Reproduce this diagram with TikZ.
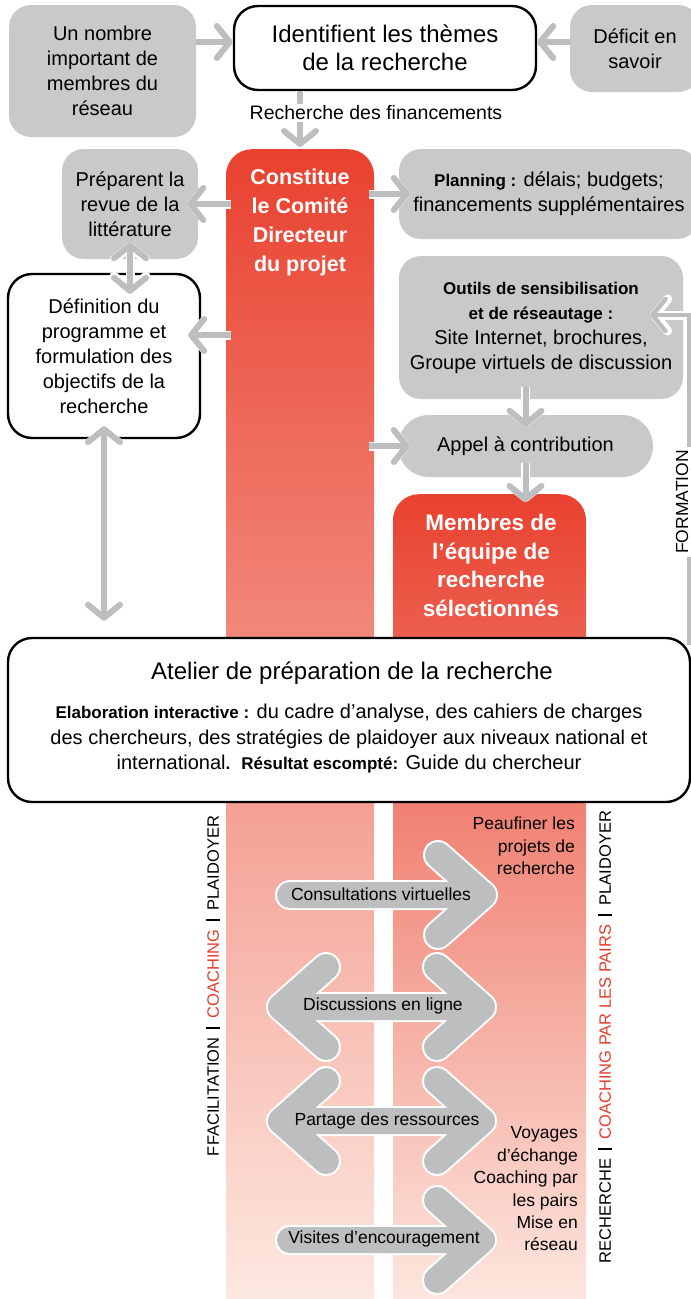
\documentclass[tikz,border=0pt]{standalone}
\usepackage{fontspec}
\setmainfont{Liberation Sans}
\usepackage{tikz}
\usetikzlibrary{arrows.meta}

\definecolor{boxgray}{RGB}{200,201,203}
\definecolor{arrgray}{RGB}{189,190,192}
\definecolor{redtop}{RGB}{233,65,47}
\definecolor{redbot}{RGB}{253,237,229}
\definecolor{accent}{RGB}{230,60,45}

\newcommand{\fsize}[2]{\fontsize{#1}{#2}\selectfont}
\newcommand{\boldlab}[1]{{\bfseries\fontsize{17}{25}\selectfont #1}}
\newcommand{\sepbar}{\hspace{0.5em}\rule[-0.05em]{2.6pt}{0.8em}\hspace{0.5em}}

\begin{document}
\begin{tikzpicture}[
            x = 1pt, y = -1pt, % one unit per pixel, downwards
            > = {Straight Barb[length=13pt, width=32pt, round]}, % arrow head style
            font = \fsize{20}{25}
        ]

        \tikzstyle{graybox}=[fill=boxgray, rounded corners=22pt, align=center, inner sep=0pt]
        \tikzstyle{whitebox}=[fill=white, draw=black, line width=2.4pt, rounded corners=24pt, align=center, inner sep=0pt]
        \tikzstyle{redcol}=[top color=redtop, bottom color=redbot, rounded corners=26pt, inner sep=0pt, anchor=north]
        \tikzstyle{redtext}=[text=white, font=\bfseries\fsize{21.5}{29}, align=center]
        \tikzstyle{conn}=[draw=arrgray, line width=6pt, preaction={draw=white, line width=9pt}]
        \tikzstyle{bigarrow}=[draw=arrgray, line width=26pt, line cap=round, line join=round,
            preaction={draw=white, line width=30pt, line cap=round, line join=round}]
        \tikzstyle{arrlabel}=[font=\fsize{17.5}{22.4}, inner sep=0pt]
        \tikzstyle{sidetext}=[rotate=90, font=\fsize{16.5}{20}]

        \useasboundingbox (0,0) rectangle (691,1299);

	% red columns
        \node[redcol, minimum width=148pt, minimum height=1181pt] (comite) at (300,149) {};
        \node[redcol, minimum width=193pt, minimum height=836pt] (membres) at (489.5,494) {};
        \node[redtext] (comitetxt) at (300,222.5) {Constitue\\le Comité\\Directeur\\du projet};
        \node[redtext, font=\bfseries\fsize{22.5}{28.5}] (membrestxt) at (491,565.5) {Membres de\\l’équipe de\\recherche\\sélectionnés};

	% top row
        \node[graybox, minimum width=187pt, minimum height=132pt] (nombre) at (102.5,71) {Un nombre\\important de\\membres du\\réseau};
        \node[whitebox, minimum width=302pt, minimum height=84pt, font=\fsize{24}{28}] (ident) at (385,48) {Identifient les thèmes\\de la recherche};
        \node[graybox, minimum width=130pt, minimum height=87pt] (deficit) at (635,48.5) {Déficit en\\savoir};

	% left side
        \node[graybox, minimum width=136pt, minimum height=110pt] (prep) at (130,204) {Préparent la\\revue de la\\littérature};
        \node[whitebox, minimum width=192pt, minimum height=164pt] (def) at (104,356) {Définition du\\programme et\\formulation des\\objectifs de la\\recherche};
        \coordinate (defin) at ([yshift=21pt]def.east);

	% right side
        \node[graybox, minimum width=300pt, minimum height=90pt] (planning) at (549,194) {\boldlab{Planning :} délais; budgets;\\financements supplémentaires};
        \node[graybox, minimum width=284pt, minimum height=143pt] (outils) at (541,327.5) {\boldlab{Outils de sensibilisation}\\\boldlab{et de réseautage :}\\Site Internet, brochures,\\Groupe virtuels de discussion};
        \node[graybox, minimum width=255pt, minimum height=62pt, rounded corners=31pt] (appel) at (525.5,446) {Appel à contribution};

	% workshop
        \node[whitebox, minimum width=682pt, minimum height=164pt] (atelier) at (349,720) {};
        \node[font=\fsize{24}{28}] (ateliertitre) at (352,673) {Atelier de préparation de la recherche};
        \node[align=center, font=\fsize{20}{25.5}] (atelierdesc) at (349,739) {\boldlab{Elaboration interactive :} du cadre d’analyse, des cahiers de charges\\des chercheurs, des stratégies de plaidoyer aux niveaux national et\\international\boldlab{.}\ \ \boldlab{Résultat escompté:} Guide du chercheur};

	% connectors
        \draw[conn, ->] ([yshift=6pt]nombre.east |- ident.west) -- ([yshift=6pt]ident.west);
        \draw[conn, ->] ([yshift=6pt]deficit.west |- ident.east) -- ([yshift=6pt]ident.east);
        \draw[conn, ->] (ident.south -| comite.north) -- ([yshift=2pt]comite.north);
        \node[fill=white, inner sep=2pt, font=\fsize{19.5}{22}] (financement) at (376,113) {Recherche des financements};

        \draw[conn, ->] ([xshift=5pt]comite.west |- prep.east) -- ([xshift=-11pt]prep.east);
        \draw[conn, ->] ([xshift=5pt]comite.west |- defin) -- ([xshift=-13pt]defin);
        \draw[conn, <->] ([yshift=17pt]prep.south) -- ([yshift=-21pt]prep.south |- def.north);
        \draw[conn, <->] ([yshift=13pt]def.south) -- ([yshift=16pt]def.south |- atelier.north);

        \draw[conn, ->] ([xshift=-5pt]comite.east |- planning.west) -- ([xshift=11pt]planning.west);
        \draw[conn, ->] ([xshift=-5pt]comite.east |- appel.west) -- ([xshift=12pt]appel.west);
        \draw[conn, ->] ([yshift=12pt]outils.south -| appel.north) -- ([yshift=-12pt]appel.north);
        \draw[conn, ->] ([yshift=14pt]appel.south) -- ([yshift=-8pt]appel.south |- membres.north);

	% training loop
        \coordinate (fbas) at (689,645);
        \draw[conn, line width=4.5pt, ->] (fbas) |- ([xshift=-33pt, yshift=12.5pt]outils.east);
        \node[sidetext, fill=white, font=\fsize{17.5}{20}, inner sep=3pt] (formation) at (682,502) {FORMATION};

	% lower part
        \node[sidetext] (gauche) at (213,986) {FFACILITATION\sepbar\textcolor{accent}{COACHING}\sepbar PLAIDOYER};
        \node[sidetext] (droite) at (605,1037) {RECHERCHE\sepbar\textcolor{accent}{COACHING PAR LES PAIRS}\sepbar PLAIDOYER};

        \node[arrlabel, align=right, anchor=east] (peaufiner) at (575,846) {Peaufiner les\\projets de\\recherche};
        \node[arrlabel, align=right, anchor=east] (voyages) at (578,1189) {Voyages\\d’échange\\Coaching par\\les pairs\\Mise en\\réseau};

        \draw[bigarrow] (290,895) -- (483,895) (438,855) -- (483,895) -- (438,935);
        \node[arrlabel] (consult) at (381,894) {Consultations virtuelles};

        \draw[bigarrow] (281,1007) -- (482,1007) (326,967) -- (281,1007) -- (326,1047) (437,967) -- (482,1007) -- (437,1047);
        \node[arrlabel] (discussion) at (383,1006) {Discussions en ligne};

        \draw[bigarrow] (281,1121) -- (482,1121) (326,1081) -- (281,1121) -- (326,1161) (437,1081) -- (482,1121) -- (437,1161);
        \node[arrlabel] (partage) at (387,1121) {Partage des ressources};

        \draw[bigarrow] (290,1240) -- (482,1240) (437,1200) -- (482,1240) -- (437,1280);
        \node[arrlabel] (visites) at (384,1239) {Visites d’encouragement};

\end{tikzpicture}
\end{document}
